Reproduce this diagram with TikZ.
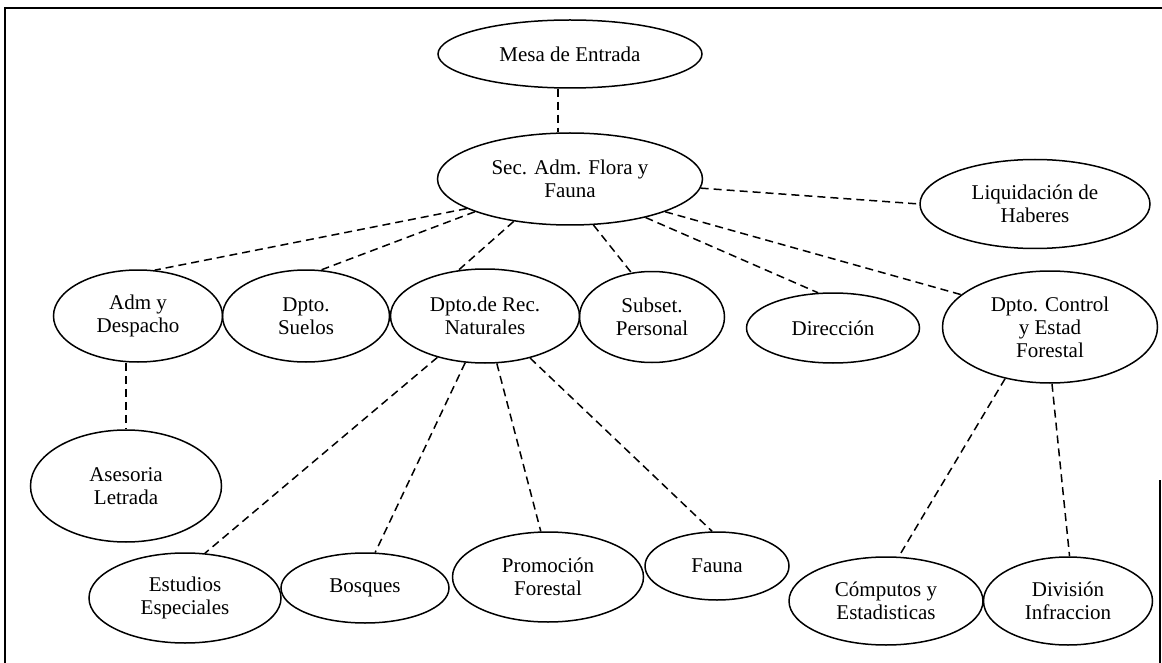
\documentclass[tikz,border=0pt]{standalone}
\usepackage{fontspec}
\setmainfont{Liberation Serif}
\usetikzlibrary{shapes.geometric}

\begin{document}
\begin{tikzpicture}[x=1pt,y=-1pt]
        \tikzset{unidad/.style={draw,ellipse,line width=1.5pt,inner sep=0pt,align=center,
                font=\fontsize{21}{23}\selectfont},
            enlace/.style={draw,line width=1.5pt,dash pattern=on 8pt off 5pt},
            marco/.style={draw,line width=2pt}}
        \useasboundingbox (0,0) rectangle (1162,663);
        % marco
        \draw[marco] (1160,480) -- (1160,663);
        \draw[marco] (5,663) -- (5,8) -- (1162,8);
        % nivel superior
        \node[unidad,minimum width=264pt,minimum height=68pt] (mesa) at (570,54) {Mesa de Entrada};
        \node[unidad,minimum width=265pt,minimum height=92pt] (sec) at (570,179) {Sec. Adm. Flora y\\Fauna};
        \node[unidad,minimum width=230pt,minimum height=89pt] (liq) at (1035,204) {Liquidación de\\Haberes};
        % nivel medio
        \node[unidad,minimum width=169pt,minimum height=92pt] (adm) at (138,316) {Adm y\\Despacho};
        \node[unidad,minimum width=167pt,minimum height=92pt] (suelos) at (306,316) {Dpto.\\Suelos};
        \node[unidad,minimum width=189pt,minimum height=94pt] (rec) at (485,316) {Dpto.de Rec.\\Naturales};
        \node[unidad,minimum width=145pt,minimum height=91pt] (subset) at (652,317) {Subset.\\Personal};
        \node[unidad,minimum width=173pt,minimum height=70pt] (dir) at (833,328) {Dirección};
        \node[unidad,minimum width=215pt,minimum height=112pt] (ctrl) at (1050,327) {Dpto. Control\\y Estad\\Forestal};
        \node[unidad,minimum width=191pt,minimum height=112pt] (ases) at (126,486) {Asesoria\\Letrada};
        % nivel inferior
        \node[unidad,minimum width=192pt,minimum height=90pt] (estud) at (185,598) {Estudios\\Especiales};
        \node[unidad,minimum width=168pt,minimum height=70pt] (bosq) at (365,588) {Bosques};
        \node[unidad,minimum width=191pt,minimum height=90pt] (promo) at (548,577) {Promoción\\Forestal};
        \node[unidad,minimum width=144pt,minimum height=68pt] (fauna) at (717,566) {Fauna};
        \node[unidad,minimum width=194pt,minimum height=88pt] (comp) at (886,601) {Cómputos y\\Estadisticas};
        \node[unidad,minimum width=169pt,minimum height=88pt] (div) at (1068,601) {División\\Infraccion};
        % enlaces
        \draw[enlace] ([xshift=-12pt]mesa.south) -- ([xshift=-12pt]sec.north);
        \draw[enlace] (sec.356) -- (liq.west);
        \draw[enlace] (sec.196) -- (adm.70);
        \draw[enlace] (sec.199) -- (suelos.72);
        \draw[enlace] (sec.217) -- (rec.120);
        \draw[enlace] (sec.297) -- (subset.115);
        \draw[enlace] (sec.333) -- (dir.113);
        \draw[enlace] (sec.341) -- (ctrl.160);
        \draw[enlace] (ases.north |- adm.south) -- (ases.north);
        \draw[enlace] (rec.221) -- (estud.66);
        \draw[enlace] (rec.247) -- (bosq.74);
        \draw[enlace] (rec.284) -- (promo.99);
        \draw[enlace] (rec.317) -- (fauna.98);
        \draw[enlace] (ctrl.229) -- (comp.74);
        \draw[enlace] (ctrl.272) -- (div.88);
\end{tikzpicture}
\end{document}
